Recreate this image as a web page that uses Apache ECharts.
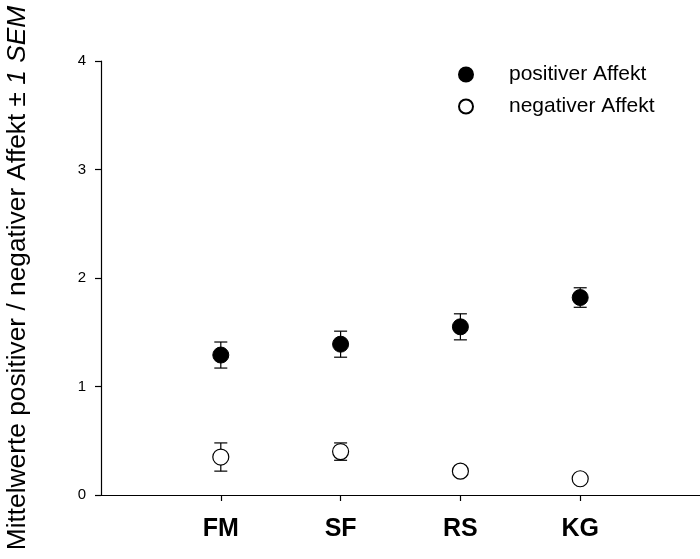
<!DOCTYPE html>
<html>
<head>
<meta charset="utf-8">
<script src="https://cdn.jsdelivr.net/npm/echarts@6/dist/echarts.min.js"></script>
<style>
  html, body { margin: 0; padding: 0; background: #fff; }
  #chart { width: 700px; height: 559px; }
</style>
</head>
<body>
<div id="chart"></div>
<script>
const categories = ["FM", "SF", "RS", "KG"];
const positions = [1, 2, 3, 4];
const positiveMean = [1.29, 1.39, 1.55, 1.82];
const positiveSem = [0.12, 0.12, 0.12, 0.09];
const negativeMean = [0.35, 0.40, 0.22, 0.15];
const negativeSem = [0.13, 0.08, 0.02, 0.02];
const yTicks = [0, 1, 2, 3, 4];

const font = "Arial, 'Liberation Sans', sans-serif";

function errorData(mean, sem) {
  return positions.map((p, i) => [p, mean[i] - sem[i], mean[i] + sem[i]]);
}

// vertical bar with small caps
function renderErrorBar(params, api) {
  const x = api.value(0);
  const top = api.coord([x, api.value(2)]);
  const bot = api.coord([x, api.value(1)]);
  const half = 6.5;
  const style = { stroke: "#000", lineWidth: 1.2 };
  return {
    type: "group",
    children: [
      { type: "line", shape: { x1: top[0], y1: top[1], x2: bot[0], y2: bot[1] }, style: style },
      { type: "line", shape: { x1: top[0] - half, y1: top[1], x2: top[0] + half, y2: top[1] }, style: style },
      { type: "line", shape: { x1: bot[0] - half, y1: bot[1], x2: bot[0] + half, y2: bot[1] }, style: style },
    ],
  };
}

const chart = echarts.init(document.getElementById("chart"));
const option = {
  animation: false,
  backgroundColor: "#fff",
  grid: { left: 101, right: 0, top: 61, bottom: 64, outerBoundsMode: "none", containLabel: false },
  legend: {
    orient: "vertical",
    left: 453,
    top: 59,
    itemWidth: 14,
    itemHeight: 14,
    itemGap: 11,
    data: [
      { name: "positiver Affekt", icon: "circle" },
      { name: "negativer Affekt", icon: "circle" },
    ],
    textStyle: { fontFamily: font, fontSize: 21, color: "#000", padding: [0, 0, 0, 31] },
  },
  xAxis: {
    type: "value",
    min: 0,
    max: 5,
    splitLine: { show: false },
    axisLine: { lineStyle: { color: "#000", width: 1.2 } },
    axisTick: { customValues: positions, length: 6, lineStyle: { color: "#000", width: 1.2 } },
    axisLabel: {
      customValues: positions,
      formatter: (v) => categories[Math.round(v) - 1],
      fontFamily: font,
      fontSize: 25,
      fontWeight: "bold",
      color: "#000",
      margin: 22,
    },
  },
  yAxis: {
    type: "value",
    min: 0,
    max: 4,
    interval: 1,
    name: "Mittelwerte positiver / negativer Affekt ± {i|1 SEM}",
    nameLocation: "middle",
    nameRotate: 90,
    nameGap: 70,
    nameTextStyle: {
      fontFamily: font,
      fontSize: 26.3,
      color: "#000",
      rich: { i: { fontFamily: font, fontSize: 26.3, fontStyle: "italic", color: "#000" } },
    },
    splitLine: { show: false },
    axisLine: { show: true, lineStyle: { color: "#000", width: 1.2 } },
    axisTick: { show: true, length: 6, lineStyle: { color: "#000", width: 1.2 } },
    axisLabel: {
      customValues: yTicks,
      fontFamily: font,
      fontSize: 15,
      color: "#000",
      margin: 15,
    },
  },
  series: [
    {
      type: "custom",
      name: "posErr",
      renderItem: renderErrorBar,
      encode: { x: 0, y: [1, 2] },
      data: errorData(positiveMean, positiveSem),
      z: 2,
      silent: true,
    },
    {
      type: "custom",
      name: "negErr",
      renderItem: renderErrorBar,
      encode: { x: 0, y: [1, 2] },
      data: errorData(negativeMean, negativeSem),
      z: 2,
      silent: true,
    },
    {
      type: "scatter",
      name: "positiver Affekt",
      symbol: "circle",
      symbolSize: 16,
      itemStyle: { color: "#000", borderColor: "#000", borderWidth: 1, opacity: 1 },
      data: positions.map((p, i) => [p, positiveMean[i]]),
      z: 3,
    },
    {
      type: "scatter",
      name: "negativer Affekt",
      symbol: "circle",
      symbolSize: 16,
      itemStyle: { color: "#fff", borderColor: "#000", borderWidth: 1.2, opacity: 1 },
      data: positions.map((p, i) => [p, negativeMean[i]]),
      z: 3,
    },
  ],
};
chart.setOption(option);
</script>
</body>
</html>
